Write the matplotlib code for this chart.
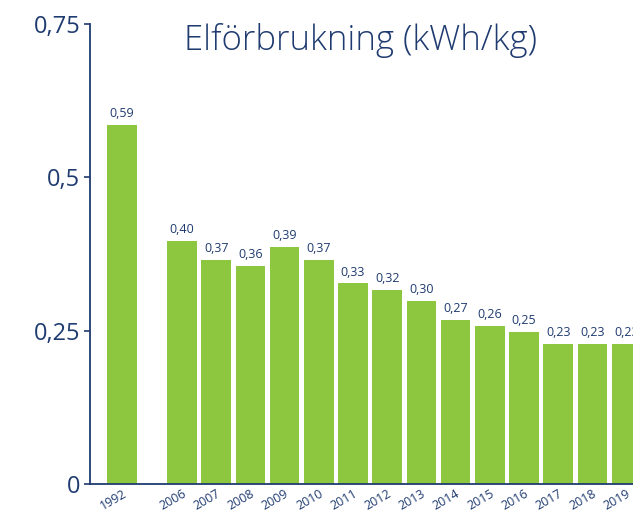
import matplotlib
matplotlib.use("Agg")
import matplotlib.pyplot as plt
from matplotlib.transforms import ScaledTranslation

years = ["1992", "2006", "2007", "2008", "2009", "2010", "2011", "2012",
         "2013", "2014", "2015", "2016", "2017", "2018", "2019"]
positions = [0, 1.75, 2.75, 3.75, 4.75, 5.75, 6.75, 7.75, 8.75, 9.75,
             10.75, 11.75, 12.75, 13.75, 14.75]
values = [0.585, 0.397, 0.366, 0.356, 0.387, 0.366, 0.327, 0.317,
          0.298, 0.268, 0.258, 0.248, 0.228, 0.228, 0.228]
labels = ["0,59", "0,40", "0,37", "0,36", "0,39", "0,37", "0,33", "0,32",
          "0,30", "0,27", "0,26", "0,25", "0,23", "0,23", "0,23"]
yticks = [0, 0.25, 0.5, 0.75]
yticklabels = ["0", "0,25", "0,5", "0,75"]

navy = "#1f3b70"
green = "#8dc63f"
plt.rcParams['font.family'] = ['Open Sans', 'DejaVu Sans']

fig = plt.figure(figsize=(6.33, 5.12), dpi=100)
ax = fig.add_axes([90/633, 28/512, 543/633, 460/512])
ax.bar(positions, values, width=0.86, color=green, zorder=2)
for x, v, l in zip(positions, values, labels):
    ax.text(x, v + 0.008, l, ha="center", va="bottom", fontsize=9, color=navy)

ax.set_xlim(-0.94, -0.94 + 543/34.2)
ax.set_ylim(0, 0.75)
ax.set_yticks(yticks)
ax.set_yticklabels(yticklabels, fontsize=17, color=navy)
ax.set_xticks(positions)
ax.set_xticklabels(years, rotation=30, fontsize=9, color=navy, ha="right",
                   rotation_mode="anchor")
off = ScaledTranslation(6/100, 0, fig.dpi_scale_trans)
for t in ax.get_xticklabels():
    t.set_transform(t.get_transform() + off)
ax.tick_params(axis="x", length=0, pad=2)
ax.tick_params(axis="y", length=4, width=1.2, color=navy, pad=3)
for s in ["top", "right"]:
    ax.spines[s].set_visible(False)
for s in ["left", "bottom"]:
    ax.spines[s].set_color(navy)
    ax.spines[s].set_linewidth(1.3)

fig.text(360/633, 1 - 40/512, "Elförbrukning (kWh/kg)", ha="center", va="center",
         fontsize=25, color=navy, fontweight=300)

fig.savefig("out.png", dpi=100)
